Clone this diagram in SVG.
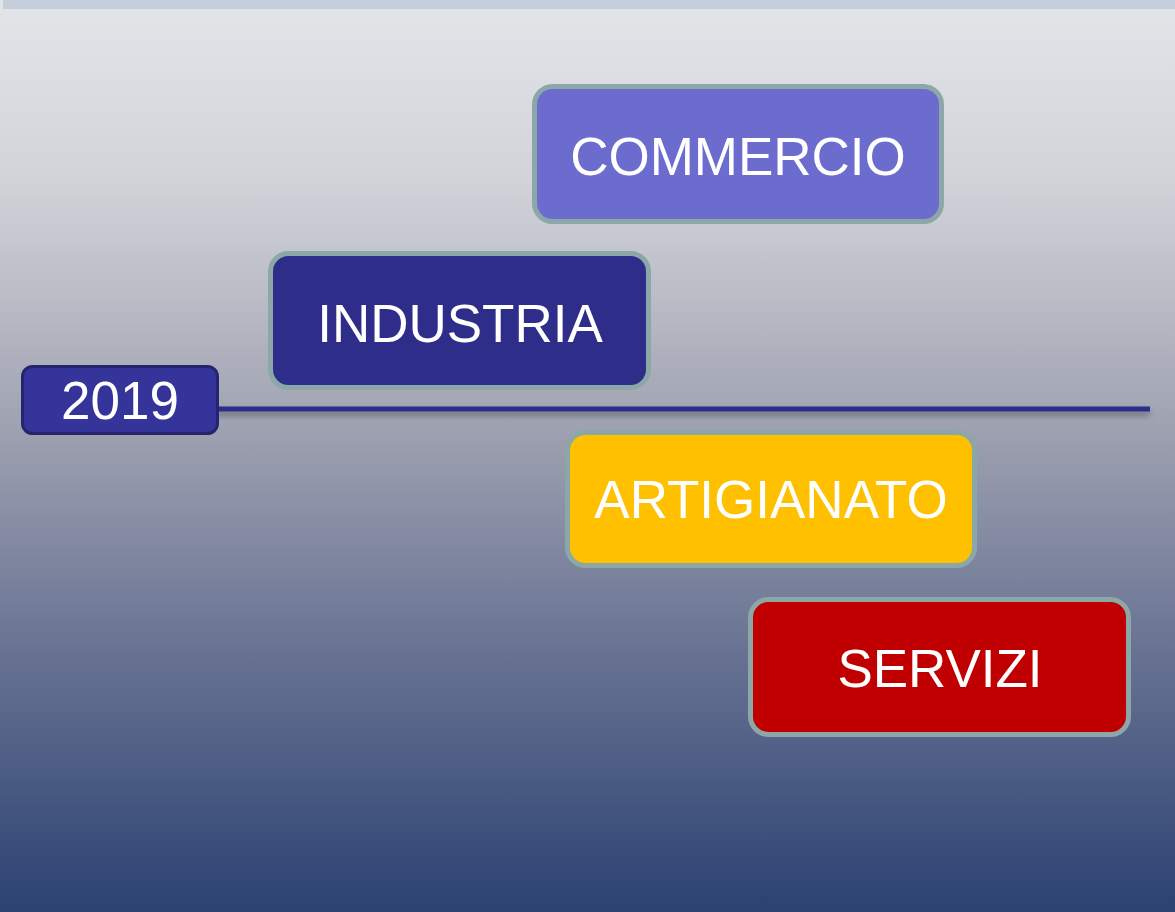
<svg xmlns="http://www.w3.org/2000/svg" width="1175" height="912" viewBox="0 0 1175 912">
<defs>
<linearGradient id="bg" x1="0" y1="0" x2="0" y2="1">
<stop offset="0" stop-color="#e4e5e9"/>
<stop offset="0.2" stop-color="#d2d3d9"/>
<stop offset="0.45" stop-color="#a2a5b3"/>
<stop offset="0.7" stop-color="#6b7594"/>
<stop offset="1" stop-color="#2b4272"/>
</linearGradient>
<filter id="sh" filterUnits="userSpaceOnUse" x="200" y="395" width="970" height="40">
<feGaussianBlur in="SourceAlpha" stdDeviation="3"/>
<feOffset dx="0" dy="4"/>
<feComponentTransfer><feFuncA type="linear" slope="0.35"/></feComponentTransfer>
<feMerge><feMergeNode/><feMergeNode in="SourceGraphic"/></feMerge>
</filter>
</defs>
<style>
.box{stroke:#8ba7a7;stroke-width:5}
.lbl{font-family:"Liberation Sans",Arial,sans-serif;font-size:53px;fill:#ffffff;text-anchor:middle}
</style>
<rect x="0" y="0" width="1175" height="912" fill="url(#bg)"/>
<rect x="3" y="0" width="1172" height="9" fill="#c5cedb"/>
<g id="connectors">
<rect x="215" y="406.5" width="935" height="5" fill="#2e2e8a" filter="url(#sh)"/>
</g>
<g id="node-2019">
<rect x="22.5" y="366.5" width="195" height="67" rx="10" fill="#34349a" stroke="#25256e" stroke-width="3"/>
<text class="lbl" x="120" y="419">2019</text>
</g>
<g id="node-commercio">
<rect class="box" x="534.5" y="86.5" width="407" height="135" rx="18" fill="#6c6ccf"/>
<text class="lbl" x="738" y="175">COMMERCIO</text>
</g>
<g id="node-industria">
<rect class="box" x="270.5" y="253.5" width="378" height="134" rx="18" fill="#2e2e8a"/>
<text class="lbl" x="460" y="342">INDUSTRIA</text>
</g>
<g id="node-artigianato">
<rect class="box" x="567.5" y="432.5" width="407" height="133" rx="18" fill="#ffc000"/>
<text class="lbl" x="771" y="518">ARTIGIANATO</text>
</g>
<g id="node-servizi">
<rect class="box" x="750.5" y="599.5" width="378" height="135" rx="18" fill="#c00000"/>
<text class="lbl" x="940" y="687">SERVIZI</text>
</g>
</svg>
